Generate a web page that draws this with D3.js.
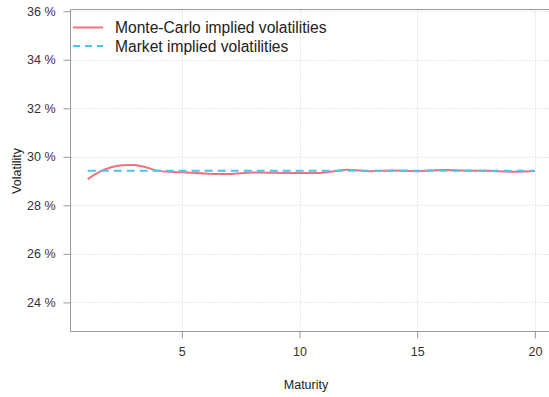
<!DOCTYPE html>
<html lang="en">
<head>
  <meta charset="UTF-8" />
  <title>Implied volatilities</title>
  <script src="https://d3js.org/d3.v7.min.js"></script>
  <style>
    body {
      margin: 0;
      background: #fff;
      font-family: "Liberation Sans", Arial, sans-serif;
    }
    svg { display: block; }
    .grid line { stroke: #d0d0d0; stroke-width: 1; stroke-dasharray: 1,2; }
    .axis path, .axis line { stroke: #999; }
    .axis text { fill: #333; font-size: 12.5px; }
    .title { fill: #222; font-size: 12.5px; }
    .legend text { fill: #222; font-size: 15.6px; }
  </style>
</head>
<body>

<svg width="549" height="397"></svg>

<script>
  // maturities (years) and implied vols (%)
  const maturities = [1, 1.5, 2, 2.5, 3, 3.5, 4, 5, 6, 7, 8, 9, 10, 11, 12, 13, 14, 15, 16, 17, 18, 19, 20];
  const mcVols =     [29.08, 29.38, 29.57, 29.65, 29.66, 29.56, 29.42, 29.36, 29.31, 29.29, 29.35, 29.34, 29.33, 29.34, 29.47, 29.40, 29.44, 29.40, 29.46, 29.43, 29.42, 29.38, 29.41];
  const marketVols = [29.42, 29.42, 29.42, 29.42, 29.42, 29.42, 29.42, 29.42, 29.42, 29.42, 29.42, 29.42, 29.42, 29.42, 29.42, 29.42, 29.42, 29.42, 29.42, 29.42, 29.42, 29.42, 29.42];

  const xTicks = [5, 10, 15, 20];
  const yTicks = [24, 26, 28, 30, 32, 34, 36];
  const seriesNames = ["Monte-Carlo implied volatilities", "Market implied volatilities"];
  const seriesColors = ["#f0707f", "#4cc3f0"];

  const svg = d3.select("svg");
  const plotLeft = 70.5, plotTop = 9.5, plotBottom = 331.5, plotRight = 549;

  const x = d3.scaleLinear().domain([0.27, 20.6]).range([plotLeft, plotRight]);
  const y = d3.scaleLinear().domain([22.8, 36.07]).range([plotBottom, plotTop]);

  // grid
  const grid = svg.append("g").attr("class", "grid");
  grid.selectAll("line.h").data(yTicks).enter().append("line")
    .attr("class", "h")
    .attr("x1", plotLeft).attr("x2", plotRight)
    .attr("y1", d => Math.round(y(d)) + 0.5).attr("y2", d => Math.round(y(d)) + 0.5);
  grid.selectAll("line.v").data(xTicks).enter().append("line")
    .attr("class", "v")
    .attr("x1", d => Math.round(x(d)) + 0.5).attr("x2", d => Math.round(x(d)) + 0.5)
    .attr("y1", plotTop).attr("y2", plotBottom);

  // frame: top, left, bottom
  svg.append("path")
    .attr("d", `M${plotRight},${plotTop}H${plotLeft}V${plotBottom}H${plotRight}`)
    .attr("fill", "none").attr("stroke", "#999");

  // axes
  const yAxis = svg.append("g").attr("class", "axis")
    .attr("transform", `translate(${plotLeft},0)`)
    .call(d3.axisLeft(y).tickValues(yTicks).tickSize(7).tickPadding(8).tickFormat(d => d + " %"));
  yAxis.select(".domain").remove();

  const xAxis = svg.append("g").attr("class", "axis")
    .attr("transform", `translate(0,${plotBottom})`)
    .call(d3.axisBottom(x).tickValues(xTicks).tickSize(7).tickPadding(9));
  xAxis.select(".domain").remove();

  svg.append("text").attr("class", "title")
    .attr("x", 306).attr("y", 389).attr("text-anchor", "middle").text("Maturity");
  svg.append("text").attr("class", "title")
    .attr("transform", "translate(21,171) rotate(-90)")
    .attr("text-anchor", "middle").text("Volatility");

  // lines
  const line = d3.line()
    .x((d, i) => x(maturities[i]))
    .y(d => y(d))
    .curve(d3.curveCatmullRom.alpha(0.5));

  svg.append("path").datum(mcVols)
    .attr("d", line).attr("fill", "none")
    .attr("stroke", seriesColors[0]).attr("stroke-width", 2);

  svg.append("path").datum(marketVols)
    .attr("d", line).attr("fill", "none")
    .attr("stroke", seriesColors[1]).attr("stroke-width", 2)
    .attr("stroke-dasharray", "8,5");

  // legend
  const legend = svg.append("g").attr("class", "legend");
  seriesNames.forEach((name, i) => {
    const ly = 27.5 + i * 18.5;
    legend.append("line")
      .attr("x1", 73).attr("x2", 103).attr("y1", ly).attr("y2", ly)
      .attr("stroke", seriesColors[i]).attr("stroke-width", 2)
      .attr("stroke-dasharray", i === 1 ? "7,5" : null);
    legend.append("text")
      .attr("x", 115).attr("y", ly + 5.5).text(name);
  });
</script>

</body>
</html>
